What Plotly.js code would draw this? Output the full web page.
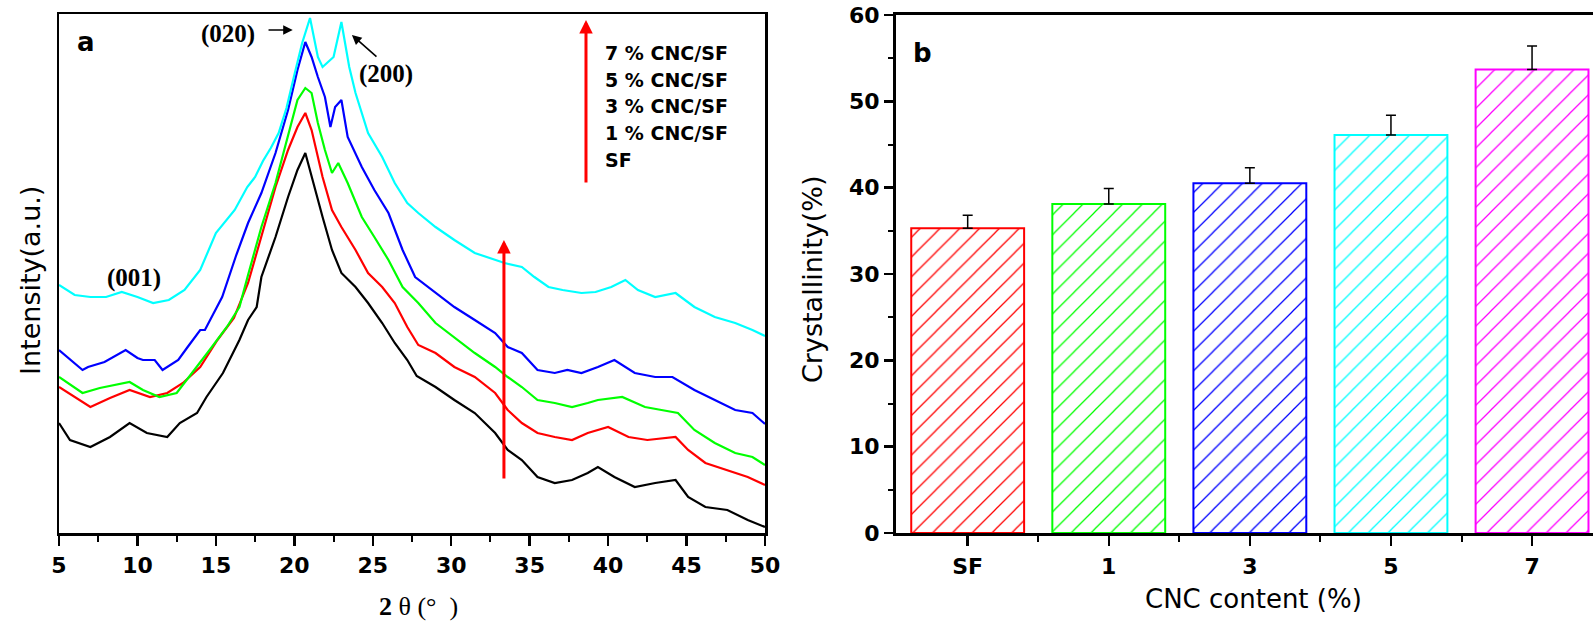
<!DOCTYPE html>
<html><head><meta charset="utf-8">
<script src="https://cdn.plot.ly/plotly-3.0.1.min.js"></script>
<style>html,body{margin:0;padding:0;background:#fff}</style>
</head><body><div id="chart" style="width:1593px;height:624px"></div>
<script>
// ---------- Panel a: XRD patterns (intensity in a.u.) ----------
const thetaSF = [5.0,5.7,7.0,8.25,9.5,10.6,11.9,12.7,13.8,14.4,15.45,16.2,16.5,17.05,17.6,17.9,18.8,19.6,20.2,20.7,21.1,21.8,22.4,23.0,23.9,24.7,25.6,26.4,27.2,27.8,29.0,30.2,31.5,32.8,33.6,34.5,35.5,36.6,37.7,38.7,39.35,40.4,41.7,43.0,44.3,45.1,46.2,47.6,48.9,50.0];
const intSF   = [110,93,86,96,110,100,96,110,120,136,160,183,193,213,226,256,296,336,363,380,356,316,283,260,246,230,210,190,173,157,146,133,120,100,83,73,56,50,53,60,66,56,46,50,53,36,26,23,13,6];

const theta1 = [5.0,7.0,8.25,9.5,10.8,11.9,12.9,14.0,15.1,16.15,17.05,17.9,18.8,19.6,20.2,20.7,21.1,21.8,22.4,23.0,23.9,24.7,25.6,26.4,27.2,27.9,29.0,30.2,31.5,32.8,33.6,34.5,35.5,36.6,37.7,38.7,39.35,40.0,41.3,42.5,44.3,45.1,46.2,47.6,48.9,50.0];
const int1   = [146,126,135,143,136,140,150,166,193,215,250,296,346,383,406,420,403,356,323,306,283,260,246,230,206,188,180,166,156,140,123,110,100,96,93,100,103,106,96,93,96,83,70,63,56,48];

const theta3 = [5.0,6.5,7.6,9.5,10.35,11.4,12.5,13.5,14.6,15.7,16.5,17.05,17.9,18.8,19.6,20.2,20.7,21.1,21.5,21.95,22.4,22.8,23.4,24.3,25.1,26.0,26.9,27.9,29.0,30.2,31.5,32.8,33.6,34.5,35.5,36.6,37.7,38.7,39.35,40.9,42.35,43.4,44.45,45.5,46.8,48.1,49.2,50.0];
const int3   = [156,140,145,151,143,136,140,160,183,206,226,258,306,350,396,433,445,440,410,383,360,370,350,316,296,273,246,230,210,196,180,166,156,146,133,130,126,130,133,136,126,123,120,103,90,80,76,68];

const theta5 = [5.0,6.5,6.85,7.6,7.9,9.25,10.0,10.35,11.1,11.6,12.6,13.2,14.0,14.3,15.1,15.4,16.3,17.05,17.9,18.8,19.6,20.2,20.7,21.1,21.5,21.95,22.3,22.6,23.0,23.4,24.3,25.1,26.0,26.9,27.7,29.0,30.2,31.5,32.8,33.6,34.5,35.5,36.6,37.4,38.3,39.35,40.0,40.4,41.7,43.0,44.1,45.5,46.8,48.1,49.2,50.0];
const int5   = [183,163,166,170,171,183,175,173,173,163,173,186,203,203,226,236,278,310,340,380,423,463,491,476,456,436,406,426,433,396,366,343,320,283,256,240,226,213,200,186,180,163,160,163,160,166,170,173,160,156,156,143,133,123,120,109];

const theta7 = [5,6,7,8,9,10,11,12,13,14,15,16.2,17.0,17.5,18.0,18.5,19.0,19.5,20.0,20.5,21.0,21.5,21.8,22.5,23.0,23.5,23.9,24.7,25.6,26.4,27.2,27.9,29.0,30.2,31.5,32.8,33.4,34.5,35.3,36.2,37.1,38.3,39.2,40.2,41.1,41.9,43.0,44.3,45.5,46.8,48.1,49.2,50.0];
const int7   = [248,238,236,236,241,236,230,233,243,263,300,323,346,356,372,385,400,425,458,490,515,476,466,476,511,466,440,400,376,350,330,320,306,293,280,273,270,266,256,246,243,240,241,246,253,243,236,240,226,216,210,203,197];

const seriesNames = ['SF','1 % CNC/SF','3 % CNC/SF','5 % CNC/SF','7 % CNC/SF'];
const lineColors  = ['#000000','#ff0000','#00ff00','#0000ff','#00ffff'];

// ---------- Panel b: crystallinity ----------
const categories   = ['SF','1','3','5','7'];
const crystallinity = [35.3, 38.1, 40.5, 46.1, 53.7];
const crystErr      = [1.5, 1.8, 1.8, 2.3, 2.7];
const barColors     = ['#ff0000','#00ff00','#0000ff','#00ffff','#ff00ff'];

const W = 1593, H = 624;
const px = x => x / W;
const py = y => 1 - y / H;

const xs = [thetaSF, theta1, theta3, theta5, theta7];
const ys = [intSF, int1, int3, int5, int7];
const traces = xs.map((x, i) => ({
  type: 'scatter', mode: 'lines', x: x, y: ys[i], name: seriesNames[i],
  line: {color: lineColors[i], width: 2.2}, xaxis: 'x', yaxis: 'y', showlegend: false
}));
traces.push({
  type: 'bar', x: categories.map((c, i) => i), y: crystallinity, width: 0.8,
  xaxis: 'x2', yaxis: 'y2', showlegend: false,
  marker: {
    color: '#ffffff',
    line: {color: barColors, width: 2},
    pattern: {shape: '/', fgcolor: barColors, bgcolor: '#ffffff', size: 14, solidity: 0.09}
  },
  error_y: {type: 'data', symmetric: false, array: crystErr, arrayminus: crystErr.map(() => 0),
            color: '#000000', thickness: 1.5, width: 5}
});

const tickFont = {family: 'DejaVu Sans', size: 22, color: '#000', weight: 'bold'};
const serif = {family: 'Liberation Serif', size: 25, color: '#000', weight: 'bold'};

function label(x, y, text, font, extra) {
  return Object.assign({xref: 'paper', yref: 'paper', x: px(x), y: py(y), text: text,
    xanchor: 'center', yanchor: 'middle', showarrow: false, font: font}, extra || {});
}

const layout = {
  width: W, height: H, margin: {l: 0, r: 0, t: 0, b: 0, autoexpand: false},
  paper_bgcolor: '#fff', plot_bgcolor: '#fff', hovermode: false, showlegend: false,
  xaxis: {
    domain: [px(59), px(765)], range: [5, 50], anchor: 'y', automargin: false,
    tickmode: 'linear', tick0: 5, dtick: 5, ticks: 'outside', ticklen: 10, tickwidth: 2.5,
    tickcolor: '#000', tickfont: tickFont, ticklabelstandoff: 1,
    minor: {dtick: 2.5, tick0: 5, ticks: 'outside', ticklen: 6, tickwidth: 2, tickcolor: '#000'},
    showline: true, linewidth: 2.5, linecolor: '#000', mirror: true,
    showgrid: false, zeroline: false
  },
  yaxis: {
    domain: [py(533), py(14)], range: [0, 519], anchor: 'x', automargin: false,
    showticklabels: false, ticks: '', showline: true, linewidth: 2.5, linecolor: '#000',
    mirror: true, showgrid: false, zeroline: false
  },
  xaxis2: {
    domain: [px(896), 1], range: [-0.508, 4.432], anchor: 'y2', automargin: false,
    tickmode: 'array', tickvals: categories.map((c, i) => i), ticktext: categories,
    ticks: 'outside', ticklen: 10, tickwidth: 2.5, tickcolor: '#000', tickfont: tickFont,
    ticklabelstandoff: 2,
    minor: {tickmode: 'array', tickvals: [0.5, 1.5, 2.5, 3.5], ticks: 'outside', ticklen: 6, tickwidth: 2, tickcolor: '#000'},
    showline: true, linewidth: 3, linecolor: '#000', mirror: true,
    showgrid: false, zeroline: false
  },
  yaxis2: {
    domain: [py(533), py(15)], range: [0, 60], anchor: 'x2', automargin: false,
    tickmode: 'linear', tick0: 0, dtick: 10, ticks: 'outside', ticklen: 9, tickwidth: 2.5,
    tickcolor: '#000', tickfont: tickFont, ticklabelstandoff: 0,
    minor: {dtick: 5, tick0: 0, ticks: 'outside', ticklen: 5, tickwidth: 2, tickcolor: '#000'},
    showline: true, linewidth: 3, linecolor: '#000', mirror: false,
    showgrid: false, zeroline: false
  },
  annotations: [
    // axis titles
    label(30, 281, 'Intensity(a.u.)', {family: 'DejaVu Sans', size: 27, color: '#000'}, {textangle: -90}),
    label(418, 606, '<b>2</b> θ (°&nbsp;&nbsp;)', {family: 'Liberation Serif', size: 26, color: '#000'}),
    label(812, 279, 'Crystallinity(%)', {family: 'DejaVu Sans', size: 27, color: '#000'}, {textangle: -90}),
    label(1253, 599, 'CNC content (%)', {family: 'DejaVu Sans', size: 26, color: '#000'}),
    // panel letters
    label(86, 42, 'a', {family: 'DejaVu Sans', size: 26, color: '#000', weight: 'bold'}),
    label(922, 53, 'b', {family: 'DejaVu Sans', size: 26, color: '#000', weight: 'bold'}),
    // peak labels
    label(228, 34, '(020)', serif),
    label(386, 74, '(200)', serif),
    label(134, 278, '(001)', serif),
    // black arrows
    {xref: 'x', yref: 'y', axref: 'x', ayref: 'y', x: 19.9, y: 503, ax: 18.26, ay: 503, text: '',
     showarrow: true, arrowhead: 2, arrowsize: 1.2, arrowwidth: 1.6, arrowcolor: '#000'},
    {xref: 'x', yref: 'y', axref: 'x', ayref: 'y', x: 23.67, y: 498, ax: 25.33, ay: 475, text: '',
     showarrow: true, arrowhead: 2, arrowsize: 1.2, arrowwidth: 1.6, arrowcolor: '#000'},
    // red arrows
    {xref: 'x', yref: 'y', axref: 'x', ayref: 'y', x: 38.59, y: 513, ax: 38.59, ay: 349, text: '',
     showarrow: true, arrowhead: 2, arrowsize: 0.9, arrowwidth: 3, arrowcolor: '#ff0000'},
    {xref: 'x', yref: 'y', axref: 'x', ayref: 'y', x: 33.36, y: 293, ax: 33.36, ay: 53, text: '',
     showarrow: true, arrowhead: 2, arrowsize: 0.9, arrowwidth: 3, arrowcolor: '#ff0000'}
  ]
};
// legend-like text column
const legendLines = seriesNames.slice().reverse();
const legendY = [53, 80, 106, 133, 160];
legendLines.forEach((t, i) => layout.annotations.push(
  label(603, legendY[i], t, {family: 'DejaVu Sans', size: 19, color: '#000', weight: 'bold'}, {xanchor: 'left'})
));

Plotly.newPlot('chart', traces, layout, {displayModeBar: false, staticPlot: true});
</script></body></html>
